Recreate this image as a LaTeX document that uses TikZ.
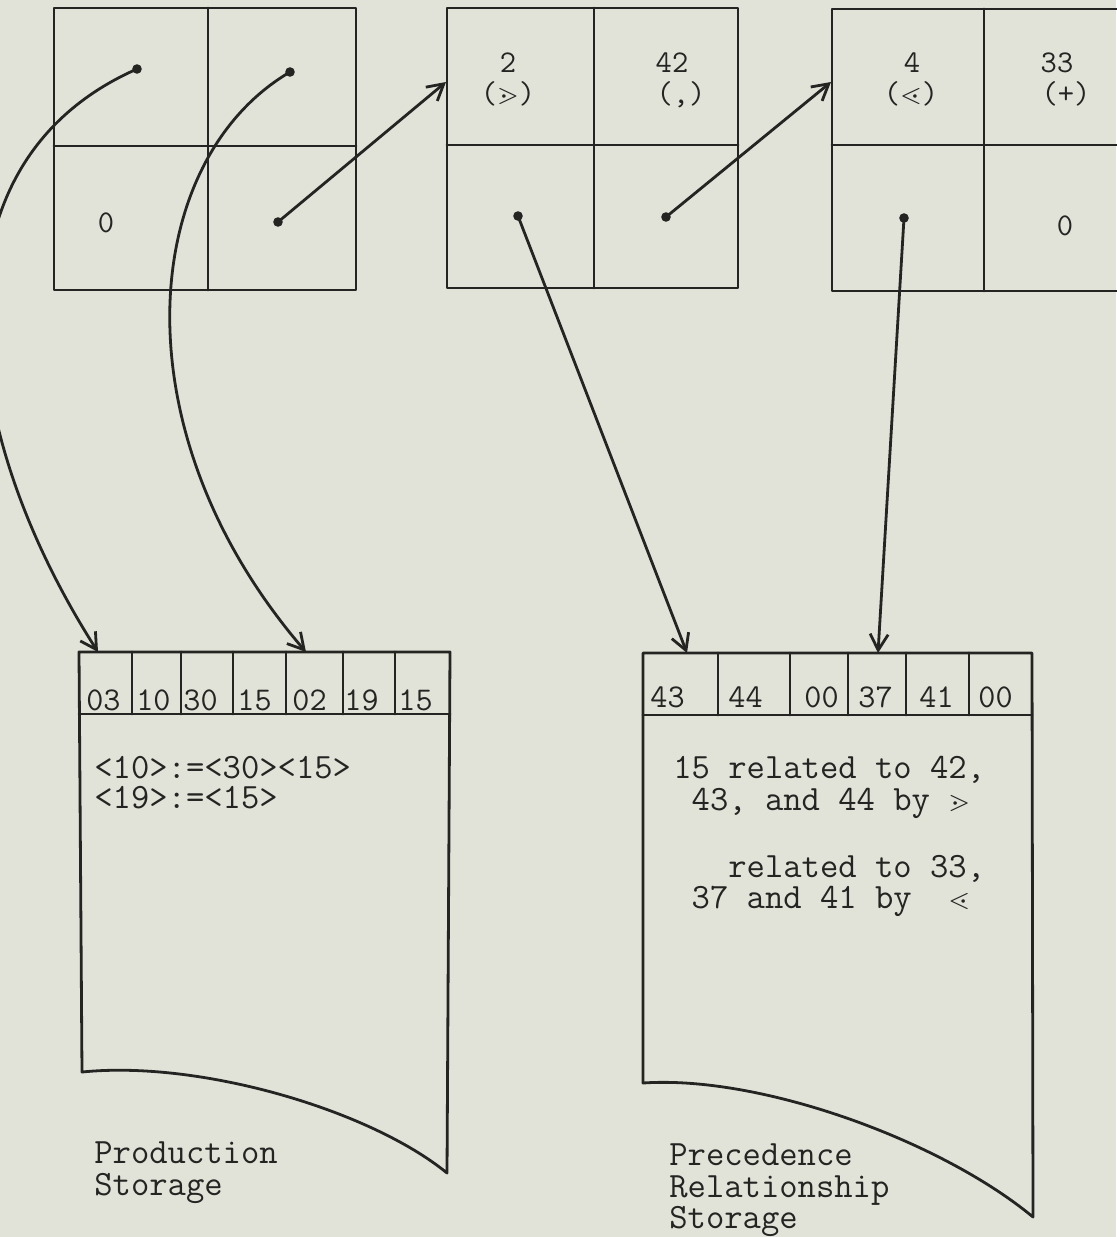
\documentclass[tikz,border=0pt]{standalone}
\usepackage{amssymb}
\usepackage{fontspec}
\usetikzlibrary{arrows.meta}
\definecolor{paper}{RGB}{225,227,216}
\definecolor{ink}{RGB}{36,36,34}
\newcommand{\gdot}{{\fontsize{14}{14}\selectfont$\gtrdot$}}
\newcommand{\ldot}{{\fontsize{14}{14}\selectfont$\lessdot$}}

\begin{document}
\begin{tikzpicture}[x=0.5pt,y=-0.5pt,line join=round,line cap=round,>={Straight Barb[length=8pt,width=9pt]},line width=1.4pt,color=ink]
	\tikzset{every node/.style={inner sep=0pt,font=\ttfamily\fontsize{17.8}{16pt}\selectfont},
		cellnum/.style={anchor=base,font=\ttfamily\fontsize{15.8}{18}\selectfont},
		hdr/.style={anchor=base west,font=\ttfamily\fontsize{16.6}{18}\selectfont},
		body/.style={anchor=base west,align=left}}
	\fill[paper] (0,0) rectangle (1116,1237);
	\useasboundingbox (0,0) rectangle (1116,1237);
	% list cells
	\draw (54,8) rectangle (356,290) (208,8)--(208,290) (54,146)--(356,146);
	\draw (447,8) rectangle (738,288) (594,8)--(594,288) (447,145)--(738,145);
	\draw (832,9) rectangle (1136,291) (984,9)--(984,291) (832,145)--(1136,145);
	\node[cellnum] (zeroA) at (106,232) {0};
	\node[cellnum] (codeB) at (508,72) {2};
	\node[cellnum] (relB) at (508,103) {(\gdot)};
	\node[cellnum] (symB) at (672,72) {42};
	\node[cellnum] (commaB) at (681,103) {(,)};
	\node[cellnum] (codeC) at (912,72) {4};
	\node[cellnum] (relC) at (911,103) {(\ldot)};
	\node[cellnum] (symC) at (1057,72) {33};
	\node[cellnum] (plusC) at (1066,103) {(+)};
	\node[cellnum] (zeroC) at (1065,235) {0};
	% pointers
	\coordinate (pA1) at (137,69);
	\coordinate (pA2) at (290,72);
	\coordinate (pA4) at (278,222);
	\coordinate (pB3) at (518,216);
	\coordinate (pB4) at (666,217);
	\coordinate (pC3) at (904,218);
	\coordinate (inB) at (446,82);
	\coordinate (inC) at (831,82);
	\coordinate (prodA) at (98,652);
	\coordinate (prodB) at (306,652);
	\coordinate (precA) at (687,653);
	\coordinate (precB) at (878,653);
	\foreach \p in {pA1,pA2,pA4,pB3,pB4,pC3}
	\fill (\p) circle[radius=2.4pt];
	\draw[->] (pA4)--(inB);
	\draw[->] (pB4)--(inC);
	\draw[->] (pB3)--(precA);
	\draw[->] (pC3)--(precB);
	\draw[->] (pA1) .. controls (-70,160) and (-50,420) .. (prodA);
	\draw[->] (pA2) .. controls (140,160) and (115,430) .. (prodB);
	% production storage
	\draw (79,652)--(450,652)--(447,1173) .. controls (370,1110) and (200,1060) .. (82,1072)--cycle;
	\draw (79,714)--(450,714);
	\foreach \x in {132,181,233,286,343,395}
	\draw (\x,652)--(\x,714);
	\foreach \x/\v [count=\i] in {85/03,135/10,182/30,236/15,291/02,343/19,397/15}
	\node[hdr] (pc\i) at (\x,710) {\v};
	% (base of a multi-line node is its last line)
	\node[body] (rules) at (93,808) {<10>:=<30><15>\\[-1pt]<19>:=<15>};
	\node[body] (prodT) at (93,1195) {Production\\Storage};
	% precedence storage
	\draw (643,653)--(1032,653)--(1033,1217) .. controls (940,1140) and (760,1075) .. (643,1083)--cycle;
	\draw (643,715)--(1032,715);
	\foreach \x in {718,790,848,906,969}
	\draw (\x,653)--(\x,715);
	\foreach \x/\v [count=\i] in {649/43,727/44,803/00,857/37,918/41,977/00}
	\node[hdr] (rc\i) at (\x,707) {\v};
	\node[body] (rels) at (672,908) {15 related to 42,\\
		\hphantom{0}43, and 44 by \gdot\\[17.5pt]
		\hphantom{000}related to 33,\\[-0.5pt]
		\hphantom{0}37 and 41 by~~\ldot};
	\node[body] (precT) at (668,1228) {Precedence\\Relationship\\[-0.5pt]Storage};
\end{tikzpicture}
\end{document}
